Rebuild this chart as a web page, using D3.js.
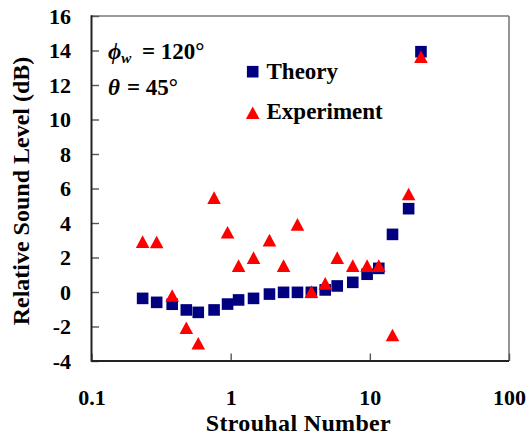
<!DOCTYPE html>
<html>
<head>
<meta charset="utf-8">
<script src="https://cdn.jsdelivr.net/npm/d3@7"></script>
<style>
  html, body { margin: 0; padding: 0; background: #fff; }
  svg { display: block; }
  text { font-family: "Liberation Serif", "Times New Roman", serif; font-weight: bold; fill: #000; }
</style>
</head>
<body>
<svg id="chart" width="528" height="439"></svg>
<script>
// Strouhal numbers shared by both series
const strouhal = [0.233, 0.294, 0.38, 0.48, 0.585, 0.76, 0.95, 1.14, 1.46, 1.9, 2.4,
                  3.02, 3.8, 4.78, 5.83, 7.54, 9.56, 11.6, 14.55, 19.0, 23.3];
// Relative sound level (dB), predicted
const theory = [-0.37, -0.6, -0.71, -1.04, -1.18, -1.04, -0.7, -0.46, -0.37, -0.12, -0.02,
                -0.02, -0.02, 0.12, 0.35, 0.56, 1.03, 1.37, 3.34, 4.83, 13.93];
// Relative sound level (dB), measured
const experiment = [2.92, 2.9, -0.2, -2.07, -2.97, 5.47, 3.46, 1.53, 1.99, 3.01, 1.53,
                    3.92, 0.02, 0.5, 1.99, 1.53, 1.53, 1.53, -2.49, 5.68, 13.64];

const xTicks = [0.1, 1, 10, 100];
const yTicks = [-4, -2, 0, 2, 4, 6, 8, 10, 12, 14, 16];
const seriesNames = ["Theory", "Experiment"];

const svg = d3.select("#chart");
const plot = { left: 91.5, right: 509, top: 16, bottom: 361 };

const x = d3.scaleLog().domain([0.1, 100]).range([plot.left, plot.right]);
const y = d3.scaleLinear().domain([-4, 16]).range([plot.bottom, plot.top]);

// frame: dark left/bottom, lighter top/right
svg.append("line").attr("x1", plot.left).attr("x2", plot.right).attr("y1", plot.top).attr("y2", plot.top)
  .attr("stroke", "#7a7a7a").attr("stroke-width", 1.6);
svg.append("line").attr("x1", plot.right).attr("x2", plot.right).attr("y1", plot.top).attr("y2", plot.bottom)
  .attr("stroke", "#7a7a7a").attr("stroke-width", 1.6);

// x axis with inward ticks
const xAxis = svg.append("g")
  .attr("transform", `translate(0,${plot.bottom})`)
  .call(d3.axisBottom(x).tickValues(xTicks).tickFormat(d => String(d)).tickSize(-7.5).tickPadding(28.4));
xAxis.select(".domain").remove();
xAxis.selectAll(".tick line").attr("stroke", "#555").attr("stroke-width", 1.4);
xAxis.selectAll(".tick text").style("font-size", "22px").style("font-family", null).attr("fill", "#000");

// y axis with inward ticks
const yAxis = svg.append("g")
  .attr("transform", `translate(${plot.left},0)`)
  .call(d3.axisLeft(y).tickValues(yTicks).tickFormat(d => String(d)).tickSize(-7.5).tickPadding(20.5));
yAxis.select(".domain").remove();
yAxis.selectAll(".tick line").attr("stroke", "#555").attr("stroke-width", 1.4);
yAxis.selectAll(".tick text").style("font-size", "22px").style("font-family", null).attr("fill", "#000");

svg.append("line").attr("x1", plot.left).attr("x2", plot.left).attr("y1", plot.top - 0.8).attr("y2", plot.bottom + 0.8)
  .attr("stroke", "#222").attr("stroke-width", 2);
svg.append("line").attr("x1", plot.left).attr("x2", plot.right).attr("y1", plot.bottom).attr("y2", plot.bottom)
  .attr("stroke", "#222").attr("stroke-width", 2);

// axis titles
svg.append("text")
  .attr("x", (plot.left + plot.right) / 2 - 2).attr("y", 431)
  .attr("text-anchor", "middle").style("font-size", "24px")
  .attr("textLength", 185).attr("lengthAdjust", "spacing")
  .text("Strouhal Number");
svg.append("text")
  .attr("transform", "translate(29,191) rotate(-90)")
  .attr("text-anchor", "middle").style("font-size", "24px")
  .text("Relative Sound Level (dB)");

// markers
const sq = 11.6;
const triW = 13.6, triH = 12.6;
const triPath = (cx, cy) => `M${cx},${cy - triH / 2}L${cx + triW / 2},${cy + triH / 2}L${cx - triW / 2},${cy + triH / 2}Z`;

svg.append("g").selectAll("rect")
  .data(strouhal.map((s, i) => [s, theory[i]]))
  .join("rect")
  .attr("x", d => x(d[0]) - sq / 2).attr("y", d => y(d[1]) - sq / 2)
  .attr("width", sq).attr("height", sq)
  .attr("fill", "#000080");

svg.append("g").selectAll("path")
  .data(strouhal.map((s, i) => [s, experiment[i]]))
  .join("path")
  .attr("d", d => triPath(x(d[0]), y(d[1])))
  .attr("fill", "#ff0000");

// legend
const legend = svg.append("g");
legend.append("rect").attr("x", 252.7 - sq / 2).attr("y", 71.7 - sq / 2).attr("width", sq).attr("height", sq).attr("fill", "#000080");
legend.append("path").attr("d", triPath(252.7, 112.7)).attr("fill", "#ff0000");
legend.append("text").attr("x", 266.5).attr("y", 79).style("font-size", "23px").text(seriesNames[0]);
legend.append("text").attr("x", 266.5).attr("y", 119).style("font-size", "23px").text(seriesNames[1]);

// case annotation
const a1 = svg.append("text").attr("y", 59).style("font-size", "23px");
a1.append("tspan").attr("x", 108).style("font-style", "italic").text("ϕ");
a1.append("tspan").style("font-style", "italic").style("font-size", "15px").attr("dy", 4).text("w");
a1.append("tspan").attr("x", 142).attr("dy", -4).text("= 120°");
const a2 = svg.append("text").attr("y", 95).style("font-size", "23px");
a2.append("tspan").attr("x", 108).style("font-style", "italic").text("θ");
a2.append("tspan").attr("x", 127).text("= 45°");
</script>
</body>
</html>
